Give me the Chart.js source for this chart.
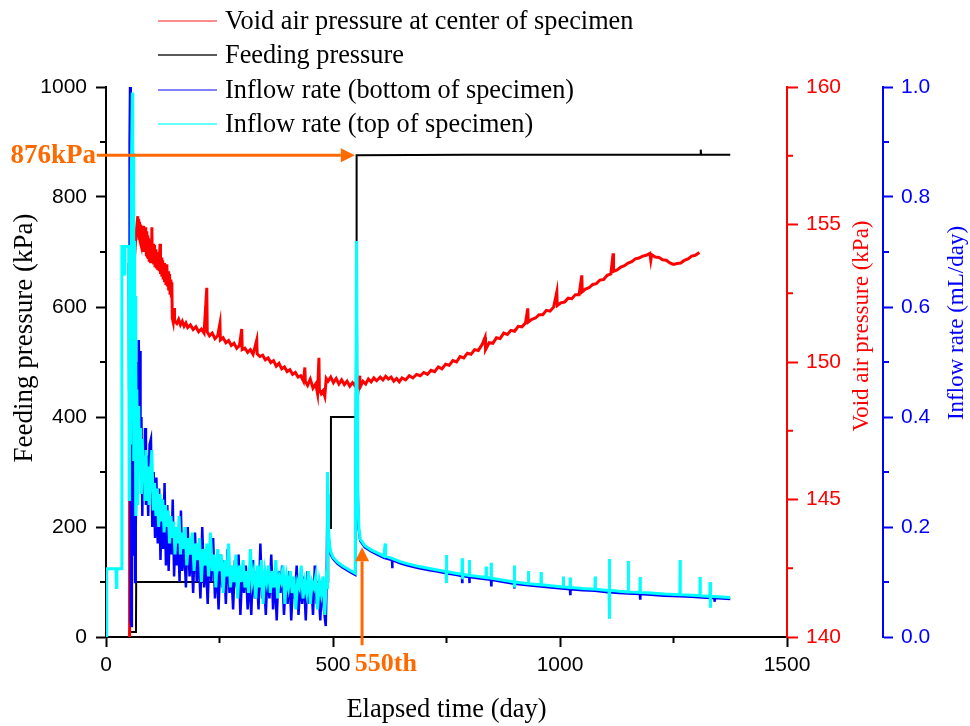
<!DOCTYPE html>
<html>
<head>
<meta charset="utf-8">
<script src="https://cdn.jsdelivr.net/npm/chart.js@4.4.0/dist/chart.umd.min.js"></script>
<style>
  html, body { margin: 0; padding: 0; background: #fff; }
</style>
</head>
<body>
<canvas id="myChart" width="970" height="726"></canvas>
<script>
// [day, kPa] - void air pressure at center of specimen (right red axis)
const voidAir = [
  [50,140],[51,140],[52,153.0],[55,153.8],[58,154.2],[62,153.6],[66,154.6],[70,155.3],[71,154.6],[72,155.2],
  [73,154.5],[74,155.1],[75,154.4],[76,155.0],[77,154.3],[78,154.95],[79,154.2],[80,154.9],[81,154.1],[82,154.95],
  [83,154.0],[84,154.8],[85,154.2],[86,154.9],[87,154.0],[88,154.7],[89,153.9],[90,154.75],[91,153.85],[92,154.6],
  [93,153.8],[94,154.5],[95,153.7],[96,154.4],[97,153.75],[98,154.45],[99,153.6],[100,154.3],[101,154.9],[102,153.7],
  [104,154.3],[105,153.55],[107,154.25],[108,153.5],[110,154.1],[111,153.4],[113,154.0],[114,153.35],[116,153.9],[117,153.3],
  [119,154.3],[120,153.2],[122,153.8],[123,153.1],[125,153.7],[126,153.0],[128,153.6],[129,152.9],[131,153.5],[132,152.8],
  [134,153.55],[135,152.75],[137,153.3],[138,152.6],[140,153.2],[141,152.5],[143,153.0],[144,152.4],[145,152.9],[146,151.6],
  [148,151.45],[150,151.96],[151,151.5],[156,151.4],[160,151.55],[164,151.35],[168,151.48],[172,151.3],[176,151.42],[180,151.25],
  [186,151.35],[192,151.18],[198,151.28],[204,151.1],[210,151.2],[216,151.05],[222,152.7],[223,151.1],[228,150.95],[234,151.05],
  [240,150.85],[246,150.95],[251,151.4],[252,150.8],[258,150.88],[264,150.7],[270,150.78],[276,150.6],[282,150.68],[288,150.5],
  [294,150.6],[299,151.2],[300,150.45],[306,150.5],[312,150.35],[318,150.45],[324,150.28],[332,150.8],[333,150.3],[339,150.2],
  [345,150.25],[351,150.08],[357,150.15],[363,149.98],[369,150.05],[375,149.85],[381,149.95],[387,149.75],[393,149.82],[399,149.65],
  [405,149.72],[411,149.55],[417,149.62],[423,149.45],[429,149.5],[435,149.3],[438,149.8],[439,149.3],[444,149.15],[450,149.38],
  [456,149.05],[462,149.2],[466,148.85],[469,150.15],[470,149.0],[474,148.85],[478,148.95],[482,148.75],[485,149.4],[489,149.3],
  [495,149.45],[501,149.25],[507,149.4],[513,149.2],[519,149.35],[525,149.18],[531,149.3],[537,149.12],[543,149.25],[548,149.15],
  [552,149.3],[556,149.05],[559,149.5],[560,149.1],[566,149.3],[572,149.2],[578,149.38],[584,149.28],[590,149.42],[596,149.32],
  [604,149.45],[610,149.35],[616,149.48],[622,149.38],[628,149.45],[634,149.3],[640,149.4],[646,149.28],[652,149.42],[660,149.35],
  [668,149.5],[676,149.42],[684,149.55],[692,149.5],[700,149.62],[708,149.55],[716,149.7],[724,149.65],[732,149.82],[740,149.75],
  [748,149.92],[756,149.88],[764,150.05],[772,150.0],[780,150.2],[788,150.15],[796,150.32],[804,150.28],[812,150.45],[820,150.42],
  [828,150.62],[835,150.9],[836,150.45],[844,150.7],[852,150.68],[860,150.88],[868,150.85],[876,151.05],[884,151.0],[892,151.15],
  [900,151.12],[908,151.3],[916,151.28],[924,151.42],[929,151.95],[930,151.45],[938,151.55],[946,151.6],[954,151.72],[962,151.72],
  [970,151.88],[978,151.85],[986,152.0],[993,152.55],[994,152.05],[1002,152.15],[1010,152.18],[1018,152.32],[1026,152.3],[1034,152.45],
  [1042,152.45],[1048,153.15],[1049,152.55],[1056,152.65],[1064,152.7],[1072,152.82],[1080,152.85],[1088,152.98],[1096,153.0],[1104,153.15],
  [1112,153.2],[1117,153.95],[1118,153.3],[1126,153.35],[1134,153.45],[1142,153.5],[1150,153.6],[1158,153.65],[1166,153.75],[1174,153.78],
  [1182,153.85],[1190,153.88],[1198,153.95],[1200,153.7],[1202,153.9],[1210,153.82],[1218,153.8],[1226,153.72],[1234,153.7],[1242,153.6],
  [1250,153.55],[1258,153.58],[1266,153.6],[1274,153.7],[1282,153.75],[1290,153.85],[1298,153.88],[1307,153.98]
];

// [day, kPa] - feeding pressure (left axis)
const feeding = [
  [51,0],[52,9],[66,9],[66.5,100],[489,100],[489.5,198],[495,198],[495.5,400],[551,400],[552,876],
  [800,877],[1309,877],[1310,886],[1311,877],[1375,877]
];

// [day, mL/day] - inflow rate, bottom of specimen (right blue axis)
const inflowBottom = [
  [50,0.68],[51,0.45],[52,0.9],[53,1.0],[54,0.7],[55,0.03],[56,0.02],[57,0.8],[58,0.35],[59,0.78],
  [60,0.4],[61,0.62],[62,0.15],[63,0.5],[64,0.1],[65,0.42],[66,0.2],[68,0.35],[70,0.5],[71,0.38],
  [72,0.54],[74,0.44],[75,0.52],[76,0.3],[78,0.4],[80,0.22],[82,0.36],[84,0.26],[86,0.38],[88,0.24],
  [90,0.33],[93,0.22],[96,0.35],[99,0.36],[102,0.2],[105,0.3],[108,0.18],[111,0.29],[114,0.17],[117,0.27],
  [120,0.14],[123,0.25],[126,0.16],[129,0.28],[132,0.13],[135,0.24],[138,0.12],[141,0.22],[144,0.15],[147,0.25],
  [150,0.11],[153,0.2],[156,0.13],[159,0.19],[162,0.1],[165,0.23],[168,0.12],[172,0.17],[176,0.09],[180,0.2],
  [184,0.11],[188,0.16],[192,0.08],[196,0.19],[200,0.1],[204,0.15],[208,0.07],[212,0.2],[216,0.09],[220,0.14],
  [224,0.06],[228,0.16],[232,0.1],[236,0.18],[240,0.07],[244,0.13],[248,0.05],[252,0.15],[256,0.09],[260,0.14],
  [264,0.06],[268,0.16],[272,0.08],[276,0.12],[280,0.05],[284,0.14],[288,0.09],[292,0.15],[296,0.04],[300,0.12],
  [304,0.08],[308,0.13],[312,0.05],[316,0.11],[320,0.04],[324,0.14],[328,0.07],[332,0.12],[336,0.05],[340,0.17],
  [344,0.07],[348,0.11],[352,0.04],[356,0.12],[360,0.07],[364,0.15],[368,0.05],[372,0.11],[376,0.03],[380,0.12],
  [384,0.08],[388,0.13],[392,0.04],[396,0.1],[400,0.06],[404,0.12],[408,0.03],[412,0.1],[416,0.07],[420,0.13],
  [424,0.04],[428,0.1],[432,0.06],[436,0.11],[440,0.03],[444,0.12],[448,0.06],[452,0.1],[456,0.04],[460,0.13],
  [464,0.06],[468,0.09],[472,0.03],[476,0.1],[480,0.05],[484,0.02],[486,0.1],[488,0.28],[490,0.19],[492,0.165],
  [495,0.15],[500,0.142],[510,0.133],[520,0.127],[530,0.122],[540,0.117],[549,0.113],[552,0.67],[553,0.42],[554,0.3],
  [556,0.2],[560,0.175],[570,0.163],[585,0.155],[600,0.149],[612,0.144],[630,0.14],[630.5,0.125],[631,0.14],[648,0.134],
  [665,0.13],[690,0.125],[710,0.122],[730,0.119],[749,0.116],[770,0.113],[784,0.111],[784.5,0.1],[785,0.111],[800,0.109],
  [800.5,0.098],[801,0.109],[820,0.107],[848,0.104],[848.5,0.094],[849,0.104],[870,0.101],[899,0.097],[899.5,0.088],[900,0.097],
  [930,0.094],[958,0.092],[980,0.09],[1022,0.087],[1022.5,0.078],[1023,0.087],[1050,0.085],[1077,0.084],[1100,0.082],[1130,0.08],
  [1150,0.079],[1176,0.078],[1176.5,0.07],[1177,0.078],[1200,0.077],[1230,0.075],[1264,0.074],[1290,0.073],[1330,0.071],[1340,0.071],
  [1340.5,0.064],[1341,0.071],[1375,0.069]
];

// [day, mL/day] - inflow rate, top of specimen (right blue axis)
const inflowTop = [
  [0,0],[1,0],[2,0.124],[12,0.124],[22,0.124],[23,0.09],[24,0.124],[34,0.124],[35,0.71],[39,0.71],
  [40,0.66],[41,0.71],[50,0.71],[51,0.25],[52,0.62],[54,0.35],[56,0.85],[58,0.99],[59,0.55],[60,0.88],
  [61,0.32],[62,0.72],[63,0.4],[64,0.62],[65,0.22],[66,0.52],[67,0.3],[68,0.45],[70,0.24],[72,0.42],
  [74,0.3],[76,0.38],[78,0.26],[80,0.36],[82,0.28],[84,0.33],[86,0.25],[88,0.34],[90,0.27],[92,0.31],
  [95,0.24],[98,0.3],[101,0.34],[104,0.23],[107,0.28],[110,0.22],[113,0.27],[116,0.2],[119,0.26],[122,0.21],
  [125,0.25],[128,0.19],[131,0.24],[134,0.2],[137,0.23],[140,0.17],[143,0.22],[146,0.18],[149,0.21],[152,0.15],
  [155,0.2],[158,0.17],[161,0.22],[164,0.15],[167,0.19],[170,0.16],[174,0.2],[178,0.13],[182,0.18],[186,0.15],
  [190,0.19],[194,0.12],[198,0.17],[202,0.14],[206,0.18],[210,0.1],[214,0.16],[218,0.13],[222,0.17],[226,0.11],
  [230,0.19],[234,0.12],[238,0.15],[242,0.09],[246,0.16],[250,0.12],[254,0.15],[258,0.08],[262,0.14],[266,0.11],
  [270,0.17],[274,0.09],[278,0.13],[282,0.1],[286,0.15],[290,0.07],[294,0.13],[298,0.1],[302,0.14],[306,0.09],
  [310,0.12],[314,0.08],[318,0.16],[322,0.1],[326,0.12],[330,0.07],[334,0.13],[338,0.09],[342,0.14],[346,0.06],
  [350,0.12],[354,0.1],[358,0.13],[362,0.08],[366,0.12],[370,0.09],[374,0.14],[378,0.07],[382,0.11],[386,0.1],
  [390,0.13],[394,0.06],[398,0.11],[402,0.09],[406,0.12],[410,0.08],[414,0.11],[418,0.05],[422,0.1],[426,0.09],
  [430,0.13],[434,0.07],[438,0.1],[442,0.08],[446,0.12],[450,0.06],[454,0.1],[458,0.09],[462,0.11],[466,0.05],
  [470,0.1],[474,0.08],[478,0.11],[482,0.04],[485,0.1],[487,0.09],[488,0.3],[489,0.26],[490,0.2],[492,0.17],
  [495,0.155],[500,0.145],[510,0.136],[520,0.13],[530,0.125],[540,0.12],[549,0.116],[552,0.72],[553,0.45],[554,0.32],
  [555,0.25],[557,0.2],[560,0.178],[570,0.166],[585,0.158],[600,0.152],[612,0.147],[615,0.17],[616,0.147],[630,0.143],
  [648,0.137],[665,0.133],[690,0.128],[710,0.125],[730,0.122],[749,0.119],[749.5,0.149],[750,0.098],[751,0.119],[770,0.116],
  [784,0.114],[784.5,0.143],[785,0.105],[786,0.114],[800,0.112],[800.5,0.14],[801,0.112],[820,0.11],[837,0.108],[837.5,0.128],
  [838,0.108],[848,0.107],[848.5,0.135],[849,0.107],[870,0.104],[899,0.1],[899.5,0.13],[900,0.09],[901,0.1],[930,0.097],
  [930.5,0.12],[931,0.097],[958,0.095],[958.5,0.118],[959,0.095],[980,0.093],[1007,0.091],[1007.5,0.11],[1008,0.091],[1022,0.09],
  [1022.5,0.108],[1023,0.09],[1050,0.088],[1077,0.087],[1077.5,0.11],[1078,0.087],[1100,0.085],[1108,0.085],[1108.5,0.142],[1109,0.033],
  [1110,0.085],[1130,0.083],[1150,0.082],[1150.5,0.138],[1151,0.082],[1176,0.081],[1176.5,0.109],[1177,0.081],[1200,0.08],[1230,0.078],
  [1264,0.077],[1264.5,0.14],[1265,0.077],[1290,0.076],[1308,0.075],[1308.5,0.109],[1309,0.075],[1330,0.074],[1330.5,0.1],[1331,0.053],
  [1332,0.074],[1350,0.073],[1375,0.072]
];

// axis tick values
const dayTicksMinor = [250, 750, 1250];
const feedTicksMinor = [100, 300, 500, 700, 900];
const voidTicksMinor = [142.5, 147.5, 152.5, 157.5];
const rateTicksMinor = [0.1, 0.3, 0.5, 0.7, 0.9];

// annotation values
const feedMark = 876;   // kPa
const dayMark = 564;    // arrow position (day)

const ORANGE = "#ff6a00";
const SERIF = "'Liberation Serif', 'Times New Roman', serif";
const SANS = "'Liberation Sans', Arial, sans-serif";

const toXY = (pairs) => pairs.map(([x, y]) => ({ x, y }));

function arrow(ctx, x1, y1, x2, y2, head, half) {
  const ang = Math.atan2(y2 - y1, x2 - x1);
  const bx = x2 - head * Math.cos(ang), by = y2 - head * Math.sin(ang);
  ctx.beginPath();
  ctx.moveTo(x1, y1);
  ctx.lineTo(bx, by);
  ctx.stroke();
  ctx.beginPath();
  ctx.moveTo(x2, y2);
  ctx.lineTo(bx - half * Math.sin(ang), by + half * Math.cos(ang));
  ctx.lineTo(bx + half * Math.sin(ang), by - half * Math.cos(ang));
  ctx.closePath();
  ctx.fill();
}

const decorPlugin = {
  id: "decor",
  afterDraw(chart) {
    const { ctx, chartArea, scales } = chart;
    const { x, yFeed, yVoid, yRate } = scales;
    ctx.save();

    // minor ticks
    ctx.lineWidth = 2;
    ctx.strokeStyle = "#000";
    dayTicksMinor.forEach((v) => {
      const px = x.getPixelForValue(v);
      ctx.beginPath(); ctx.moveTo(px, chartArea.bottom); ctx.lineTo(px, chartArea.bottom + 6); ctx.stroke();
    });
    feedTicksMinor.forEach((v) => {
      const py = yFeed.getPixelForValue(v);
      ctx.beginPath(); ctx.moveTo(chartArea.left - 6, py); ctx.lineTo(chartArea.left, py); ctx.stroke();
    });
    ctx.strokeStyle = "#ff0000";
    voidTicksMinor.forEach((v) => {
      const py = yVoid.getPixelForValue(v);
      ctx.beginPath(); ctx.moveTo(yVoid.left, py); ctx.lineTo(yVoid.left + 6, py); ctx.stroke();
    });
    ctx.strokeStyle = "#0000ff";
    rateTicksMinor.forEach((v) => {
      const py = yRate.getPixelForValue(v);
      ctx.beginPath(); ctx.moveTo(yRate.left, py); ctx.lineTo(yRate.left + 6, py); ctx.stroke();
    });

    // vertical axis titles (read bottom to top)
    const vTitle = (text, cx, cy, color, size) => {
      ctx.save();
      ctx.translate(cx, cy);
      ctx.rotate(-Math.PI / 2);
      ctx.font = size + "px " + SERIF;
      ctx.fillStyle = color;
      ctx.textAlign = "center";
      ctx.textBaseline = "middle";
      ctx.fillText(text, 0, 0);
      ctx.restore();
    };
    vTitle("Feeding pressure (kPa)", 25, 338, "#000", 27);
    vTitle("Void air pressure (kPa)", yVoid.left + 75, 326, "#ff0000", 23);
    vTitle("Inflow rate (mL/day)", yRate.left + 74, 323, "#0000ff", 23);

    // legend
    const legend = [
      ["Void air pressure at center of specimen", "rgba(255,0,0,0.6)"],
      ["Feeding pressure", "#222"],
      ["Inflow rate (bottom of specimen)", "rgba(0,0,255,0.65)"],
      ["Inflow rate (top of specimen)", "rgba(0,255,255,0.8)"],
    ];
    const rows = [21, 55, 90, 124];
    ctx.font = "26.3px " + SERIF;
    ctx.textAlign = "left";
    ctx.textBaseline = "middle";
    legend.forEach(([label, color], i) => {
      ctx.strokeStyle = color;
      ctx.lineWidth = 1.5;
      ctx.beginPath(); ctx.moveTo(158, rows[i]); ctx.lineTo(217, rows[i]); ctx.stroke();
      ctx.fillStyle = "#000";
      ctx.fillText(label, 225, rows[i] + 1);
    });

    // 876 kPa arrow
    ctx.strokeStyle = ORANGE;
    ctx.fillStyle = ORANGE;
    ctx.lineWidth = 3;
    const yy = yFeed.getPixelForValue(feedMark);
    arrow(ctx, x.getPixelForValue(-20), yy, x.getPixelForValue(548), yy, 14, 7);
    ctx.font = "bold 27px " + SERIF;
    ctx.textAlign = "right";
    ctx.textBaseline = "middle";
    ctx.fillText("876kPa", x.getPixelForValue(-22), yy + 1);

    // 550th arrow
    const xx = x.getPixelForValue(dayMark);
    arrow(ctx, xx, yRate.getPixelForValue(-0.015), xx, yRate.getPixelForValue(0.163), 14, 7);
    ctx.font = "bold 26px " + SERIF;
    ctx.textAlign = "left";
    ctx.fillText("550th", x.getPixelForValue(548), chartArea.bottom + 27);

    ctx.restore();
  },
};

const ctx = document.getElementById("myChart").getContext("2d");

new Chart(ctx, {
  type: "line",
  data: {
    datasets: [
      {
        label: "Inflow rate (top of specimen)",
        data: toXY(inflowTop),
        borderColor: "#00ffff",
        borderWidth: 3,
        yAxisID: "yRate",
        order: 1,
      },
      {
        label: "Inflow rate (bottom of specimen)",
        data: toXY(inflowBottom),
        borderColor: "#0000ff",
        borderWidth: 2.5,
        yAxisID: "yRate",
        order: 2,
      },
      {
        label: "Void air pressure at center of specimen",
        data: toXY(voidAir),
        borderColor: "#ff0000",
        borderWidth: 3,
        yAxisID: "yVoid",
        order: 3,
      },
      {
        label: "Feeding pressure",
        data: toXY(feeding),
        borderColor: "#000000",
        borderWidth: 2,
        yAxisID: "yFeed",
        order: 4,
      },
    ],
  },
  options: {
    responsive: false,
    animation: false,
    elements: { point: { radius: 0 }, line: { tension: 0 } },
    layout: { padding: { top: 87, left: 0, right: 0, bottom: 0 } },
    plugins: { legend: { display: false }, tooltip: { enabled: false } },
    scales: {
      x: {
        type: "linear",
        position: "bottom",
        min: 0,
        max: 1500,
        afterFit: (s) => { s.height = 89; },
        ticks: { stepSize: 500, color: "#000", padding: 6, maxRotation: 0, font: { family: SANS, size: 21 }, callback: (v) => String(v) },
        grid: { drawOnChartArea: false, color: "#000", tickLength: 10, tickWidth: 2 },
        border: { color: "#000", width: 2 },
        title: { display: true, text: "Elapsed time (day)", color: "#000", padding: { top: 0, bottom: 0 }, font: { family: SERIF, size: 26.5 } },
      },
      yFeed: {
        position: "left",
        min: 0,
        max: 1000,
        afterFit: (s) => { s.width = 106; },
        ticks: { stepSize: 200, color: "#000", padding: 9, font: { family: SANS, size: 21 }, callback: (v) => String(v) },
        grid: { drawOnChartArea: false, color: "#000", tickLength: 10, tickWidth: 2 },
        border: { color: "#000", width: 2 },
      },
      yVoid: {
        position: "right",
        weight: 0,
        min: 140,
        max: 160,
        afterFit: (s) => { s.width = 96; },
        ticks: { stepSize: 5, color: "#ff0000", padding: 8, font: { family: SANS, size: 21 }, callback: (v) => String(v) },
        grid: { drawOnChartArea: false, color: "#ff0000", tickLength: 11, tickWidth: 2 },
        border: { color: "#ff0000", width: 2 },
      },
      yRate: {
        position: "right",
        weight: 1,
        min: 0,
        max: 1,
        afterFit: (s) => { s.width = 87; },
        ticks: { stepSize: 0.2, color: "#0000ff", padding: 8, font: { family: SANS, size: 21 }, callback: (v) => v.toFixed(1) },
        grid: { drawOnChartArea: false, color: "#0000ff", tickLength: 10, tickWidth: 2 },
        border: { color: "#0000ff", width: 2 },
      },
    },
  },
  plugins: [decorPlugin],
});
</script>
</body>
</html>
